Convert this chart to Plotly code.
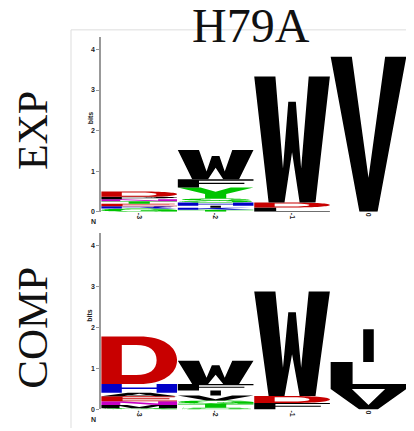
import re
import plotly.graph_objects as go

# ---------------- data ----------------
positions = [-3, -2, -1, 0]
tick_labels = ["-3", "-2", "-1", "0"]

# EXP panel: letters stacked bottom -> top, heights in bits
exp_letters = [
    ["G", "R", "E", "T", "N", "P", "D"],
    ["T", "K", "I", "H", "S", "Y", "F", "W"],
    ["L", "D", "W"],
    ["V"],
]
exp_heights = [
    [0.08, 0.06, 0.06, 0.06, 0.05, 0.06, 0.13],
    [0.05, 0.05, 0.05, 0.08, 0.10, 0.27, 0.20, 0.72],
    [0.11, 0.12, 3.10],
    [3.82],
]

# COMP panel
comp_letters = [
    ["G", "M", "N", "E", "A", "H", "D"],
    ["S", "T", "G", "V", "I", "F", "W"],
    ["F", "D", "W"],
    ["V", "L", "I"],
]
comp_heights = [
    [0.03, 0.08, 0.09, 0.12, 0.09, 0.21, 1.16],
    [0.04, 0.10, 0.08, 0.12, 0.12, 0.16, 0.57],
    [0.16, 0.17, 2.55],
    [0.50, 0.66, 0.80],
]

y_ticks = [0, 1, 2, 3, 4]

# ---------------- style ----------------
COLORS = {}
for c in "GSTYC":
    COLORS[c] = "#00C400"
for c in "NQ":
    COLORS[c] = "#C400C4"
for c in "KRH":
    COLORS[c] = "#0000C8"
for c in "DE":
    COLORS[c] = "#C80000"
for c in "AVLIPWFM":
    COLORS[c] = "#000000"

# unit-box glyph outlines (x,y in 0..1)
GLYPHS = {
    "W": "M0,1 L0.28,1 L0.38,0.27 L0.45,0.8 L0.55,0.8 L0.62,0.27 L0.72,1 L1,1 L0.81,0 L0.6,0 L0.5,0.4 L0.4,0 L0.19,0 Z",
    "V": "M0,1 L0.28,1 L0.5,0.22 L0.72,1 L1,1 L0.62,0 L0.38,0 Z",
    "L": "M0,0 L1,0 L1,0.18 L0.29,0.18 L0.29,1 L0,1 Z",
    "I": "M0.43,0 L0.57,0 L0.57,1 L0.43,1 Z",
    "D": "M0,0 L0.5,0 C0.82,0 1,0.22 1,0.5 C1,0.78 0.82,1 0.5,1 L0,1 Z "
         "M0.27,0.19 L0.46,0.19 C0.64,0.19 0.73,0.3 0.73,0.5 C0.73,0.7 0.64,0.82 0.46,0.82 L0.27,0.82 Z",
    "E": "M0,0 L1,0 L1,0.17 L0.28,0.17 L0.28,0.43 L0.9,0.43 L0.9,0.59 L0.28,0.59 L0.28,0.83 L0.97,0.83 L0.97,1 L0,1 Z",
    "F": "M0,0 L0.28,0 L0.28,0.42 L0.88,0.42 L0.88,0.58 L0.28,0.58 L0.28,0.83 L1,0.83 L1,1 L0,1 Z",
    "H": "M0,0 L0.27,0 L0.27,0.42 L0.73,0.42 L0.73,0 L1,0 L1,1 L0.73,1 L0.73,0.59 L0.27,0.59 L0.27,1 L0,1 Z",
    "N": "M0,0 L0.25,0 L0.25,0.62 L0.72,0 L1,0 L1,1 L0.75,1 L0.75,0.38 L0.28,1 L0,1 Z",
    "Y": "M0,1 L0.3,1 L0.5,0.6 L0.7,1 L1,1 L0.64,0.4 L0.64,0 L0.36,0 L0.36,0.4 Z",
    "T": "M0,1 L1,1 L1,0.83 L0.64,0.83 L0.64,0 L0.36,0 L0.36,0.83 L0,0.83 Z",
    "A": "M0.35,1 L0.65,1 L1,0 L0.72,0 L0.65,0.2 L0.35,0.2 L0.28,0 L0,0 Z M0.41,0.37 L0.59,0.37 L0.5,0.68 Z",
    "M": "M0,0 L0.24,0 L0.24,0.7 L0.4,0 L0.6,0 L0.76,0.7 L0.76,0 L1,0 L1,1 L0.66,1 L0.5,0.35 L0.34,1 L0,1 Z",
    "G": "M1,0.62 C0.95,0.88 0.75,1 0.5,1 C0.2,1 0,0.78 0,0.5 C0,0.2 0.2,0 0.48,0 C0.62,0 0.72,0.06 0.78,0.14 "
         "L0.8,0 L1,0 L1,0.53 L0.52,0.53 L0.52,0.37 L0.76,0.37 C0.72,0.24 0.62,0.17 0.5,0.17 "
         "C0.34,0.17 0.26,0.3 0.26,0.5 C0.26,0.7 0.35,0.83 0.5,0.83 C0.62,0.83 0.7,0.76 0.73,0.62 Z",
    "S": "M0.02,0.32 C0.03,0.1 0.2,0 0.5,0 C0.8,0 0.98,0.12 0.98,0.3 C0.98,0.48 0.85,0.54 0.6,0.6 "
         "C0.35,0.66 0.3,0.68 0.3,0.74 C0.3,0.81 0.38,0.85 0.5,0.85 C0.63,0.85 0.7,0.79 0.71,0.7 L0.95,0.7 "
         "C0.94,0.9 0.76,1 0.5,1 C0.23,1 0.05,0.88 0.05,0.71 C0.05,0.52 0.2,0.46 0.42,0.41 "
         "C0.66,0.35 0.72,0.33 0.72,0.26 C0.72,0.19 0.63,0.15 0.5,0.15 C0.35,0.15 0.27,0.22 0.26,0.32 Z",
    "Q": "M0.5,0 C0.8,0 1,0.22 1,0.5 C1,0.78 0.8,1 0.5,1 C0.2,1 0,0.78 0,0.5 C0,0.22 0.2,0 0.5,0 Z "
         "M0.5,0.17 C0.34,0.17 0.26,0.3 0.26,0.5 C0.26,0.7 0.34,0.83 0.5,0.83 C0.66,0.83 0.74,0.7 0.74,0.5 C0.74,0.3 0.66,0.17 0.5,0.17 Z",
    "K": "M0,0 L0.27,0 L0.27,0.3 L0.4,0.43 L0.72,0 L1,0 L0.58,0.6 L0.97,1 L0.64,1 L0.27,0.6 L0.27,1 L0,1 Z",
    "R": "M0,0 L0.27,0 L0.27,0.4 L0.5,0.4 L0.72,0 L1,0 L0.75,0.44 C0.9,0.5 0.96,0.6 0.96,0.72 "
         "C0.96,0.9 0.82,1 0.6,1 L0,1 Z M0.27,0.57 L0.57,0.57 C0.66,0.57 0.7,0.63 0.7,0.7 C0.7,0.77 0.66,0.83 0.57,0.83 L0.27,0.83 Z",
    "P": "M0,0 L0.27,0 L0.27,0.37 L0.6,0.37 C0.84,0.37 1,0.5 1,0.69 C1,0.88 0.84,1 0.6,1 L0,1 Z "
         "M0.27,0.54 L0.55,0.54 C0.68,0.54 0.73,0.6 0.73,0.69 C0.73,0.78 0.68,0.83 0.55,0.83 L0.27,0.83 Z",
}

HALF_W = 0.495


def glyph_path(letter, x0, x1, y0, y1):
    toks = re.findall(r"[A-Za-z]|-?\d*\.?\d+", GLYPHS[letter])
    out = []
    pend = []
    for t in toks:
        if t.isalpha():
            out.append(t)
        else:
            pend.append(float(t))
            if len(pend) == 2:
                u, v = pend
                out.append(f"{x0 + u * (x1 - x0):.5f},{y0 + v * (y1 - y0):.5f}")
                pend = []
    return " ".join(out)


def logo_shapes(letters, heights, xref, yref):
    shapes = []
    for pos, lets, hs in zip(positions, letters, heights):
        base = 0.0
        for let, h in zip(lets, hs):
            shapes.append(dict(
                type="path", xref=xref, yref=yref,
                path=glyph_path(let, pos - HALF_W, pos + HALF_W, base, base + h),
                fillcolor=COLORS[let], line=dict(width=0), fillrule="evenodd",
                layer="above",
            ))
            base += h
    return shapes


# the page body has an 8px default margin: map window pixels to figure pixels
OFF = 8
W, H = 414 - OFF, 431 - OFF


def px_x(p):
    return (p - OFF) / W


def px_y(p):
    return (H - (p - OFF)) / H


fig = go.Figure()
fig.add_trace(go.Scatter(x=positions, y=[0] * 4, mode="markers", marker=dict(opacity=0),
                         hoverinfo="skip", showlegend=False, xaxis="x", yaxis="y"))
fig.add_trace(go.Scatter(x=positions, y=[0] * 4, mode="markers", marker=dict(opacity=0),
                         hoverinfo="skip", showlegend=False, xaxis="x2", yaxis="y2"))

tickfont = dict(family="Liberation Sans", size=7, color="#222", weight="bold")
xdom = [px_x(101), px_x(406.7)]

common_x = dict(range=[-3.5, 0.5], tickvals=positions, ticktext=tick_labels, tickangle=90,
                tickfont=tickfont, showgrid=False, zeroline=False, showline=False, ticks="",
                fixedrange=True)
common_y = dict(range=[0, 4.3], tickvals=y_ticks, tickfont=tickfont, showgrid=False,
                zeroline=False, showline=True, linecolor="#999", linewidth=1.5,
                ticks="outside", ticklen=3, tickcolor="#999", tickwidth=1, fixedrange=True)

top_y0, top_y1 = 213.3, 213.3 - 4.3 * 40.9
bot_y0, bot_y1 = 412.3, 412.3 - 4.3 * 41.25

shapes = []
# light frame
shapes.append(dict(type="line", xref="paper", yref="paper", x0=px_x(71), x1=px_x(71),
                   y0=0, y1=px_y(30), line=dict(color="#dddddd", width=1)))
shapes.append(dict(type="line", xref="paper", yref="paper", x0=px_x(71), x1=1,
                   y0=px_y(30), y1=px_y(30), line=dict(color="#dddddd", width=1)))
shapes += logo_shapes(exp_letters, exp_heights, "x", "y")
shapes += logo_shapes(comp_letters, comp_heights, "x2", "y2")

small = dict(family="Liberation Sans", size=7, color="#222", weight="bold")
serif = "Liberation Serif"
annotations = [
    dict(text="H79A", x=px_x(251), y=px_y(26), xref="paper", yref="paper", showarrow=False,
         font=dict(family=serif, size=48, color="#111"), xanchor="center", yanchor="middle"),
    dict(text="EXP", x=px_x(33), y=px_y(132), xref="paper", yref="paper", showarrow=False,
         textangle=-90, font=dict(family=serif, size=42, color="#111"),
         xanchor="center", yanchor="middle"),
    dict(text="COMP", x=px_x(33), y=px_y(330), xref="paper", yref="paper", showarrow=False,
         textangle=-90, font=dict(family=serif, size=43, color="#111"),
         xanchor="center", yanchor="middle"),
]
for ycen_bits, ycen_N in [(px_y(119), px_y(223)), (px_y(318), px_y(422))]:
    annotations.append(dict(text="bits", x=px_x(90), y=ycen_bits, xref="paper", yref="paper",
                            showarrow=False, textangle=-90, font=small,
                            xanchor="center", yanchor="middle"))
    annotations.append(dict(text="N", x=px_x(93), y=ycen_N, xref="paper", yref="paper",
                            showarrow=False, font=small, xanchor="center", yanchor="middle"))
    annotations.append(dict(text="C", x=px_x(407), y=ycen_N, xref="paper", yref="paper",
                            showarrow=False, font=small, xanchor="left", yanchor="middle"))

fig.update_layout(
    width=W, height=H, autosize=False,
    margin=dict(l=0, r=0, t=0, b=0),
    paper_bgcolor="white", plot_bgcolor="white",
    showlegend=False,
    xaxis=dict(domain=xdom, anchor="y", **common_x),
    yaxis=dict(domain=[px_y(top_y0), px_y(top_y1)], anchor="x", **common_y),
    xaxis2=dict(domain=xdom, anchor="y2", **common_x),
    yaxis2=dict(domain=[px_y(bot_y0), px_y(bot_y1)], anchor="x2", **common_y),
    shapes=shapes,
    annotations=annotations,
)

fig.write_html("out.html")
